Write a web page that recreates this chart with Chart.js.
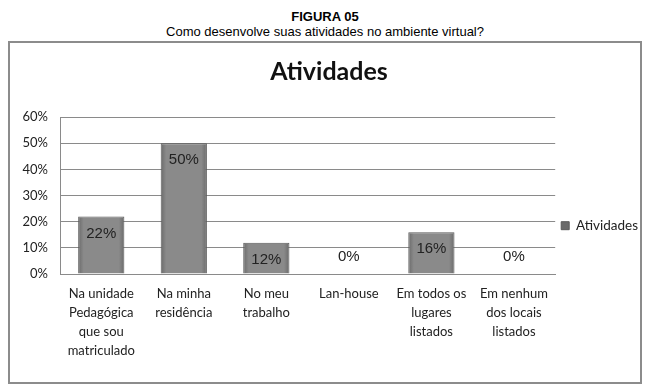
<!DOCTYPE html>
<html>
<head>
<meta charset="utf-8">
<script src="https://cdn.jsdelivr.net/npm/chart.js@4"></script>
<style>
  body { margin: 0; background: #fff; width: 647px; height: 390px; position: relative; font-family: "Liberation Sans", Arial, sans-serif; }
  #head1 { position: absolute; top: 9px; left: 0; width: 650px; text-align: center; font-weight: bold; font-size: 13px; color: #000; }
  #head2 { position: absolute; top: 24px; left: 0; width: 650px; text-align: center; font-size: 13px; color: #000; }
  #box { position: absolute; left: 8px; top: 41px; width: 630px; height: 339px; border: 2px solid #8c8c8c; background: #fff; }
</style>
</head>
<body>
<div id="head1">FIGURA 05</div>
<div id="head2">Como desenvolve suas atividades no ambiente virtual?</div>
<div id="box"><canvas id="grafico" width="630" height="339"></canvas></div>
<script>
// DADOS
const categorias = [
  ["Na unidade", "Pedagógica", "que sou", "matriculado"],
  ["Na minha", "residência"],
  ["No meu", "trabalho"],
  ["Lan-house"],
  ["Em todos os", "lugares", "listados"],
  ["Em nenhum", "dos locais", "listados"],
];
const valores = [22, 50, 12, 0, 16, 0];
const ticksY = [0, 10, 20, 30, 40, 50, 60];

// rotulos em cima das barras
const rotulos = {
  id: "rotulos",
  afterDatasetsDraw(chart) {
    const { ctx } = chart;
    const meta = chart.getDatasetMeta(0);
    ctx.save();
    ctx.font = "15px 'Liberation Sans', Arial";
    ctx.fillStyle = "#222";
    ctx.textAlign = "center";
    ctx.textBaseline = "middle";
    meta.data.forEach((bar, i) => {
      const v = valores[i];
      const y = v > 0 ? bar.y + 17 : bar.y - 17;
      ctx.fillText(v + "%", bar.x, y);
    });
    ctx.restore();
  },
};

const corBarra = (c) => {
  const chart = c.chart;
  const xs = chart.scales.x;
  if (c.dataIndex === undefined || !xs) return "#808080";
  const cx = xs.getPixelForValue(c.dataIndex);
  const w = (xs.width / categorias.length) * 0.56;
  if (!Number.isFinite(cx) || !Number.isFinite(w) || w <= 0) return "#808080";
  const g = chart.ctx.createLinearGradient(cx - w / 2, 0, cx + w / 2, 0);
  g.addColorStop(0, "#6a6a6a");
  g.addColorStop(0.12, "#8a8a8a");
  g.addColorStop(0.88, "#8a8a8a");
  g.addColorStop(1, "#6a6a6a");
  return g;
};

new Chart(document.getElementById("grafico"), {
  type: "bar",
  data: {
    labels: categorias,
    datasets: [
      {
        label: "Atividades",
        data: valores,
        backgroundColor: corBarra,
        borderColor: "#5a5a5a",
        borderWidth: 1,
        borderSkipped: "bottom",
        barPercentage: 0.56,
        categoryPercentage: 1,
      },
    ],
  },
  options: {
    responsive: false,
    animation: false,
    layout: { padding: { left: 0, right: -8, top: 6, bottom: 20 } },
    plugins: {
      title: {
        display: true,
        text: "Atividades",
        font: { family: "Lato", size: 25, weight: "bold" },
        color: "#111",
        padding: { top: 8, bottom: 30 },
      },
      legend: {
        position: "right",
        title: { display: true, text: "", padding: { top: 26, bottom: 0 } },
        labels: {
          boxWidth: 8,
          boxHeight: 8,
          font: { family: "Lato", size: 13.5 },
          color: "#222",
          padding: 6,
        },
      },
      tooltip: { enabled: false },
    },
    scales: {
      x: {
        grid: { display: false },
        border: { color: "#8a8a8a" },
        ticks: {
          font: { family: "Lato", size: 13, lineHeight: 1.46 },
          color: "#222",
          maxRotation: 0,
          autoSkip: false,
          padding: 2,
        },
      },
      y: {
        min: 0,
        max: 60,
        afterFit(s) { s.width = 50; },
        afterBuildTicks(s) { s.ticks = ticksY.map((v) => ({ value: v })); },
        grid: { color: "#8a8a8a", drawTicks: false },
        border: { color: "#8a8a8a" },
        ticks: {
          font: { family: "Lato", size: 13 },
          color: "#222",
          padding: 12,
          callback: (v) => v + "%",
        },
      },
    },
  },
  plugins: [rotulos],
});
</script>
</body>
</html>
